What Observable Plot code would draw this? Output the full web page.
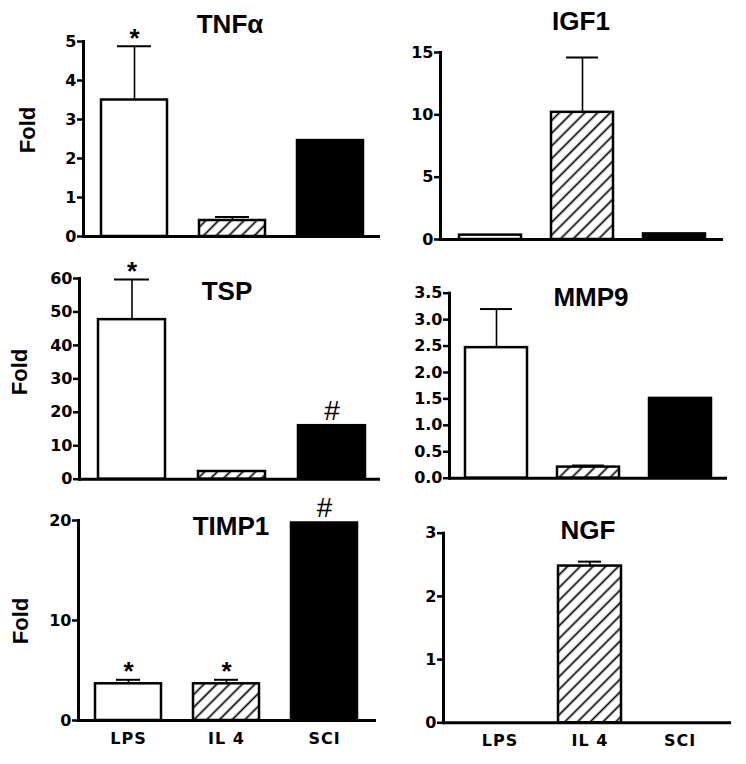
<!DOCTYPE html>
<html><head><meta charset="utf-8">
<script src="https://cdn.jsdelivr.net/npm/d3@7"></script>
<script src="https://cdn.jsdelivr.net/npm/@observablehq/plot@0.6"></script>
<style>
body{margin:0;background:#fff;}
#root{position:relative;width:746px;height:764px;overflow:hidden;background:#fff;}
.panel{position:absolute;}
.panel svg{overflow:visible;}
.panel svg g[aria-label="y-axis tick label"] text,
.panel svg g[aria-label="x-axis tick label"] text{font-weight:bold;font-family:"DejaVu Sans",sans-serif;}
.panel svg g[aria-label="y-axis tick"] path{stroke-width:2.5px;}
.title{position:absolute;font:bold 26px "Liberation Sans",Arial,sans-serif;transform:translate(-50%,-50%);line-height:1;white-space:nowrap;}
.ylab{position:absolute;font:bold 22px "Liberation Sans",Arial,sans-serif;transform:translate(-50%,-50%) rotate(-90deg);line-height:1;white-space:nowrap;}
</style></head><body>
<svg width="0" height="0" style="position:absolute"><defs>
<pattern id="hatch" patternUnits="userSpaceOnUse" width="9" height="9" patternTransform="rotate(45)">
<rect width="9" height="9" fill="white"/><line x1="4.5" y1="0" x2="4.5" y2="9" stroke="black" stroke-width="1.7"/>
</pattern></defs></svg>
<div id="root"></div>
<script>
// ---- data ----
const categories = ["LPS", "IL 4", "SCI"];

const tnfMean = [3.5, 0.41, 2.46];
const tnfErr  = [1.38, 0.09, null];
const tnfSig  = ["*", "", ""];

const igfMean = [0.35, 10.2, 0.45];
const igfErr  = [null, 4.4, null];
const igfSig  = ["", "", ""];

const tspMean = [47.7, 2.3, 16.0];
const tspErr  = [12.0, null, null];
const tspSig  = ["*", "", "#"];

const mmpMean = [2.47, 0.21, 1.51];
const mmpErr  = [0.73, 0.03, null];
const mmpSig  = ["", "", ""];

const timpMean = [3.67, 3.67, 19.75];
const timpErr  = [0.4, 0.4, null];
const timpSig  = ["*", "*", "#"];

const ngfMean = [0, 2.48, 0];
const ngfErr  = [null, 0.07, null];
const ngfSig  = ["", "", ""];

const tnfTicks = [0, 1, 2, 3, 4, 5];
const igfTicks = [0, 5, 10, 15];
const tspTicks = [0, 10, 20, 30, 40, 50, 60];
const mmpTicks = [0, 0.5, 1, 1.5, 2, 2.5, 3, 3.5];
const timpTicks = [0, 10, 20];
const ngfTicks = [0, 1, 2, 3];

const titles = ["TNF\u03B1", "IGF1", "TSP", "MMP9", "TIMP1", "NGF"];
const yLabel = "Fold";

// ---- layout (positions only) ----
const panels = [
  {title: titles[0], mean: tnfMean, err: tnfErr, sig: tnfSig, ticks: tnfTicks, yMax: 5,
   left: 0, top: 0, right: 380, height: 250, axisX: 83, y0: 236, yTop: 41,
   centers: [133.5, 230.5, 330], bw: 66, cap: 16, tx: 230, ty: 24, ylab: [28, 130]},
  {title: titles[1], mean: igfMean, err: igfErr, sig: igfSig, ticks: igfTicks, yMax: 15,
   left: 373, top: 0, right: 723, height: 250, axisX: 440, y0: 239, yTop: 52,
   centers: [489.5, 582, 675], bw: 63, cap: 15, tx: 581, ty: 21},
  {title: titles[2], mean: tspMean, err: tspErr, sig: tspSig, ticks: tspTicks, yMax: 60,
   left: 0, top: 250, right: 380, height: 250, axisX: 79, y0: 478.7, yTop: 278,
   centers: [130.5, 230.5, 331.5], bw: 67, cap: 16, tx: 227, ty: 291, ylab: [20, 372]},
  {title: titles[3], mean: mmpMean, err: mmpErr, sig: mmpSig, ticks: mmpTicks, yMax: 3.5, fmt: ".1f",
   left: 373, top: 250, right: 727, height: 250, axisX: 449, y0: 477.7, yTop: 292.7,
   centers: [496, 589, 680], bw: 62, cap: 15, tx: 591, ty: 297},
  {title: titles[4], mean: timpMean, err: timpErr, sig: timpSig, ticks: timpTicks, yMax: 20,
   left: 0, top: 500, right: 376, height: 264, axisX: 78, y0: 720, yTop: 520,
   centers: [127, 225.5, 324.5], bw: 67, cap: 21, tx: 231, ty: 526, ylab: [21, 621], xlabels: true},
  {title: titles[5], mean: ngfMean, err: ngfErr, sig: ngfSig, ticks: ngfTicks, yMax: 3,
   left: 373, top: 500, right: 731, height: 264, axisX: 443, y0: 722.3, yTop: 532.7,
   centers: [500, 587.5, 680], bw: 63, cap: 20, tx: 588, ty: 530, xlabels: true}
];

const root = document.getElementById("root");

for (const cfg of panels) {
  const data = categories.map((c, i) => ({cat: c, mean: cfg.mean[i], err: cfg.err[i], sig: cfg.sig[i]}));
  const errData = data.filter(d => d.err != null);
  const star = data.filter(d => d.sig === "*");
  const hash = data.filter(d => d.sig === "#");
  const step = (cfg.centers[2] - cfg.centers[0]) / 2;
  const p = 1 - cfg.bw / step;
  const W = cfg.right - cfg.left;
  const H = cfg.height;
  const marks = [
    Plot.barY(data, {x: "cat", y: "mean", fill: "cat", stroke: "black", strokeWidth: 2.5}),
    Plot.ruleX(errData, {x: "cat", y1: "mean", y2: d => d.mean + d.err, stroke: "black", strokeWidth: 1.6}),
    Plot.tickY(errData, {x: "cat", y: d => d.mean + d.err, stroke: "black", strokeWidth: 2, insetLeft: cfg.cap, insetRight: cfg.cap}),
    Plot.text(star, {x: "cat", y: d => d.mean + (d.err || 0), text: "sig", dy: -8, fontSize: 26, fontWeight: "bold", fontFamily: "Liberation Sans, Arial, sans-serif"}),
    Plot.text(hash, {x: "cat", y: d => d.mean + (d.err || 0), text: "sig", dy: -15, fontSize: 28, fontWeight: "normal", fontFamily: "Liberation Sans, Arial, sans-serif"}),
    Plot.ruleY([0], {stroke: "black", strokeWidth: 3}),
    Plot.frame({anchor: "left", stroke: "black", strokeWidth: 3}),
    Plot.axisY({ticks: cfg.ticks, tickFormat: cfg.fmt ? d3.format(cfg.fmt) : d3.format("d"), tickSize: 6, tickPadding: 1, fontSize: 16, strokeWidth: 2.5, label: null})
  ];
  if (cfg.xlabels) marks.push(Plot.axisX({tickSize: 0, tickPadding: 12, fontSize: 16, label: null}));
  const chart = Plot.plot({
    width: W, height: H,
    marginLeft: cfg.axisX - cfg.left, marginRight: 0,
    marginTop: cfg.yTop - cfg.top, marginBottom: cfg.top + H - cfg.y0,
    style: {fontFamily: "DejaVu Sans, sans-serif", fontWeight: "bold", background: "transparent", overflow: "visible", color: "black"},
    x: {type: "band", domain: categories, range: [cfg.centers[0] - step / 2 - cfg.left, cfg.centers[2] + step / 2 - cfg.left],
        paddingInner: p, paddingOuter: p / 2, axis: cfg.xlabels ? undefined : null},
    y: {domain: [0, cfg.yMax]},
    color: {type: "ordinal", domain: categories, range: ["white", "url(#hatch)", "black"]},
    marks
  });
  const wrap = document.createElement("div");
  wrap.className = "panel";
  wrap.style.left = cfg.left + "px";
  wrap.style.top = cfg.top + "px";
  wrap.appendChild(chart);
  root.appendChild(wrap);
  chart.querySelectorAll('g[aria-label="x-axis tick label"] text').forEach(t => t.setAttribute("letter-spacing", "1"));

  const t = document.createElement("div");
  t.className = "title";
  t.textContent = cfg.title;
  t.style.left = cfg.tx + "px";
  t.style.top = cfg.ty + "px";
  root.appendChild(t);
  if (cfg.ylab) {
    const l = document.createElement("div");
    l.className = "ylab";
    l.textContent = yLabel;
    l.style.left = cfg.ylab[0] + "px";
    l.style.top = cfg.ylab[1] + "px";
    root.appendChild(l);
  }
}
</script>
</body></html>
